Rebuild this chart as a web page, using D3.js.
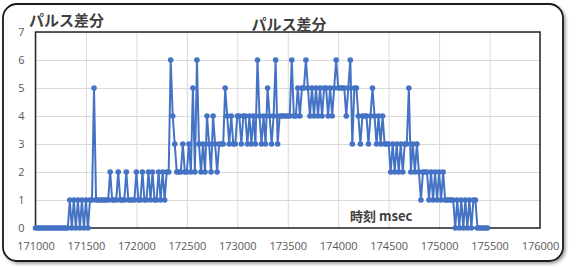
<!DOCTYPE html>
<html>
<head>
<meta charset="utf-8">
<script src="https://cdn.jsdelivr.net/npm/d3@7"></script>
<style>
  body { margin: 0; background: #fff; }
  svg { display: block; font-family: "Noto Sans CJK JP", "Noto Sans", sans-serif; }
</style>
</head>
<body>
<svg width="577" height="267"></svg>
<script>
// sample times (msec)
const times = [
  171000,171020,171040,171060,171080,171100,171120,171140,171160,171180,
  171200,171220,171240,171260,171280,171300,171320,171340,171360,171380,
  171400,171420,171440,171460,171480,171500,171520,171540,171560,171580,
  171600,171620,171640,171660,171680,171700,171720,171740,171760,171780,
  171800,171820,171840,171860,171880,171900,171920,171940,171960,171980,
  172000,172020,172040,172060,172080,172100,172120,172140,172160,172180,
  172200,172220,172240,172260,172280,172300,172320,172340,172360,172380,
  172400,172420,172440,172460,172480,172500,172520,172540,172560,172580,
  172600,172620,172640,172660,172680,172700,172720,172740,172760,172780,
  172800,172820,172840,172860,172880,172900,172920,172940,172960,172980,
  173000,173020,173040,173060,173080,173100,173120,173140,173160,173180,
  173200,173220,173240,173260,173280,173300,173320,173340,173360,173380,
  173400,173420,173440,173460,173480,173500,173520,173540,173560,173580,
  173600,173620,173640,173660,173680,173700,173720,173740,173760,173780,
  173800,173820,173840,173860,173880,173900,173920,173940,173960,173980,
  174000,174020,174040,174060,174080,174100,174120,174140,174160,174180,
  174200,174220,174240,174260,174280,174300,174320,174340,174360,174380,
  174400,174420,174440,174460,174480,174500,174520,174540,174560,174580,
  174600,174620,174640,174660,174680,174700,174720,174740,174760,174780,
  174800,174820,174840,174860,174880,174900,174920,174940,174960,174980,
  175000,175020,175040,175060,175080,175100,175120,175140,175160,175180,
  175200,175220,175240,175260,175280,175300,175320,175340,175360,175380,
  175400,175420,175440,175460,175480
];

// パルス差分 values
const pulseDiff = [
  0,0,0,0,0,0,0,0,0,0,
  0,0,0,0,0,0,0,1,0,1,
  0,1,0,1,0,1,0,1,1,5,
  1,1,1,1,1,1,1,2,1,1,
  1,2,1,1,1,2,1,1,1,1,
  2,1,1,2,1,1,2,1,2,1,
  1,2,1,2,1,2,2,6,4,3,
  2,2,2,3,2,2,3,2,5,2,
  6,3,2,3,2,4,3,2,4,3,
  2,3,3,3,5,4,3,4,3,3,
  4,4,3,4,4,3,4,3,4,3,
  6,4,3,4,3,5,4,3,4,6,
  3,4,4,4,4,4,4,6,4,4,
  5,4,5,5,6,5,4,5,4,5,
  4,5,4,5,5,4,5,4,5,6,
  5,5,5,5,4,5,6,3,5,5,
  4,3,4,4,4,3,4,5,4,3,
  4,3,4,3,3,3,2,3,2,3,
  2,3,2,3,3,5,2,3,2,3,
  2,1,2,2,2,1,2,1,2,1,
  2,1,2,1,1,1,1,1,0,1,
  0,1,0,1,0,1,0,1,1,0,
  0,0,0,0,0
];

const xTicks = [171000,171500,172000,172500,173000,173500,174000,174500,175000,175500,176000];
const yTicks = [0,1,2,3,4,5,6,7];

const chartTitle = "パルス差分";
const yTitle = "パルス差分";
const xTitle = "時刻 msec";

const svg = d3.select("svg");

// frame shadow
const defs = svg.append("defs");
const f = defs.append("filter").attr("id", "shadow")
  .attr("x", "-5%").attr("y", "-5%").attr("width", "115%").attr("height", "120%");
f.append("feDropShadow").attr("dx", 2).attr("dy", 2).attr("stdDeviation", 1.5)
  .attr("flood-color", "#000").attr("flood-opacity", 0.35);

svg.append("rect")
   .attr("x", 3).attr("y", 4)
   .attr("width", 560).attr("height", 257)
   .attr("rx", 14).attr("ry", 14)
   .attr("fill", "#fff")
   .attr("stroke", "#1a1a1a")
   .attr("stroke-width", 1.8)
   .attr("filter", "url(#shadow)");

const plot = { left: 35.5, right: 540, top: 32, bottom: 228 };

const x = d3.scaleLinear().domain([171000, 176000]).range([plot.left, plot.right]);
const y = d3.scaleLinear().domain([0, 7]).range([plot.bottom, plot.top]);

// grid
svg.append("g")
   .attr("transform", `translate(0,${plot.bottom})`)
   .call(d3.axisBottom(x).tickValues(xTicks).tickSize(-(plot.bottom - plot.top)).tickFormat(""))
   .call(g => g.select(".domain").remove())
   .call(g => g.selectAll("line").attr("stroke", "#d9d9d9").attr("stroke-width", 1));

svg.append("g")
   .attr("transform", `translate(${plot.left},0)`)
   .call(d3.axisLeft(y).tickValues(yTicks).tickSize(-(plot.right - plot.left)).tickFormat(""))
   .call(g => g.select(".domain").remove())
   .call(g => g.selectAll("line").attr("stroke", "#d9d9d9").attr("stroke-width", 1));

// plot border
svg.append("rect")
   .attr("x", plot.left).attr("y", plot.top)
   .attr("width", plot.right - plot.left).attr("height", plot.bottom - plot.top)
   .attr("fill", "none")
   .attr("stroke", "#262626")
   .attr("stroke-width", 1.5);

// tick labels
svg.append("g")
   .attr("transform", `translate(0,${plot.bottom})`)
   .call(d3.axisBottom(x).tickValues(xTicks).tickSize(0).tickPadding(14).tickFormat(d3.format("d")))
   .call(g => g.select(".domain").remove())
   .call(g => g.selectAll("text")
     .attr("fill", "#595959")
     .style("font-family", "'Open Sans', 'Noto Sans', sans-serif")
     .style("font-size", "11px"));

svg.append("g")
   .attr("transform", `translate(${plot.left},0)`)
   .call(d3.axisLeft(y).tickValues(yTicks).tickSize(0).tickPadding(11).tickFormat(d3.format("d")))
   .call(g => g.select(".domain").remove())
   .call(g => g.selectAll("text")
     .attr("fill", "#595959")
     .style("font-family", "'Open Sans', 'Noto Sans', sans-serif")
     .style("font-size", "11px"));

// series
const data = times.map((t, i) => ({ t: t, v: pulseDiff[i] }));

svg.append("path")
   .datum(data)
   .attr("fill", "none")
   .attr("stroke", "#4472c4")
   .attr("stroke-width", 2)
   .attr("stroke-linejoin", "round")
   .attr("d", d3.line().x(d => x(d.t)).y(d => y(d.v)));

svg.selectAll(".dot")
   .data(data)
   .enter()
   .append("circle")
   .attr("class", "dot")
   .attr("cx", d => x(d.t))
   .attr("cy", d => y(d.v))
   .attr("r", 2.8)
   .attr("fill", "#4472c4");

// titles
svg.append("text")
   .attr("x", 289).attr("y", 30)
   .attr("text-anchor", "middle")
   .attr("fill", "#404040")
   .style("font-size", "15px")
   .style("font-weight", "bold")
   .text(chartTitle);

svg.append("text")
   .attr("x", 29).attr("y", 26)
   .attr("fill", "#404040")
   .style("font-size", "15px")
   .style("font-weight", "bold")
   .text(yTitle);

svg.append("text")
   .attr("x", 350).attr("y", 221)
   .attr("fill", "#404040")
   .style("font-size", "13px")
   .style("font-weight", "bold")
   .text(xTitle);
</script>
</body>
</html>
